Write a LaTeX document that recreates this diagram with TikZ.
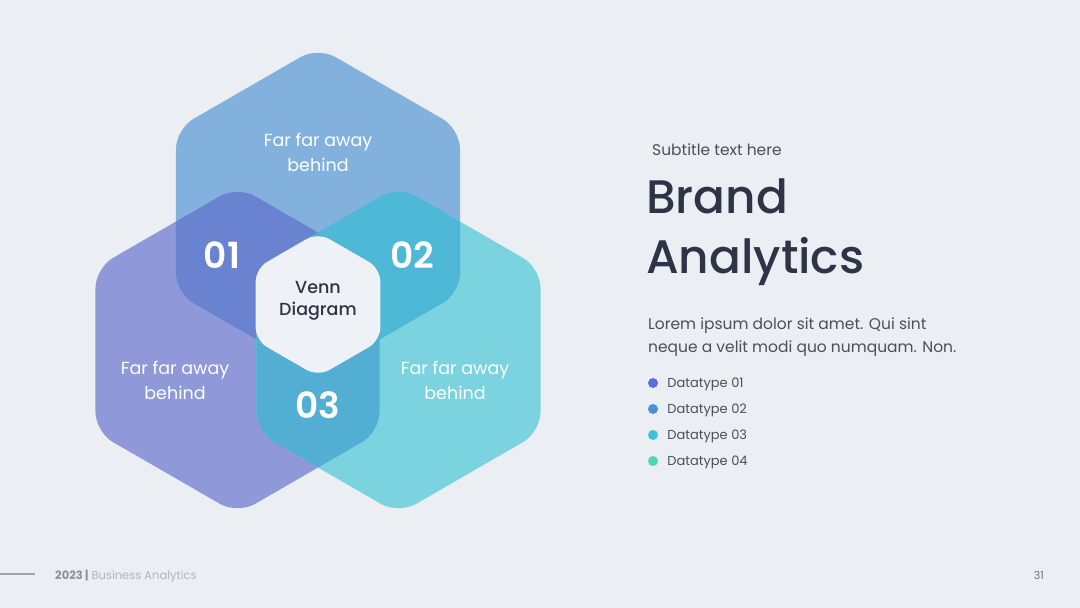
\documentclass[tikz,border=0pt]{standalone}
\usepackage{fontspec}
\setmainfont{Poppins}
\newfontfamily\popmed{Poppins Medium}
\newfontfamily\popsemi{Poppins SemiBold}
\usetikzlibrary{positioning}

\definecolor{bgcol}{HTML}{EBEEF2}
\definecolor{hextop}{HTML}{83B1DE}
\definecolor{hexleft}{HTML}{8F98D9}
\definecolor{hexright}{HTML}{7BD3DF}
\definecolor{lapone}{HTML}{6A83D1}
\definecolor{laptwo}{HTML}{4EB9D7}
\definecolor{lapthree}{HTML}{53AED3}
\definecolor{midcol}{HTML}{EEF1F5}
\definecolor{inkdark}{HTML}{2D3446}
\definecolor{inkbody}{HTML}{4A4F5C}
\definecolor{inkfoot}{HTML}{B0B5BF}
\definecolor{dotone}{HTML}{5B6FD8}
\definecolor{dottwo}{HTML}{4A90D9}
\definecolor{dotthree}{HTML}{3CC3DC}
\definecolor{dotfour}{HTML}{4FD6B8}

% hexagon path: #1 centre, #2 radius
\newcommand{\hexpath}[2]{([shift={(#1)}]30:#2) -- ([shift={(#1)}]90:#2) -- ([shift={(#1)}]150:#2)
  -- ([shift={(#1)}]210:#2) -- ([shift={(#1)}]270:#2) -- ([shift={(#1)}]330:#2) -- cycle}

\tikzset{
  hexlabel/.style={text=white, align=center, font=\fontsize{17.5}{25}\selectfont},
  numlabel/.style={text=white, font=\popsemi\fontsize{36}{40}\selectfont},
  legdot/.style={circle, inner sep=0pt, minimum size=10pt},
  legtext/.style={anchor=west, text=inkbody, font=\fontsize{13}{16}\selectfont, inner sep=0pt, yshift=-1pt},
}

\begin{document}
\begin{tikzpicture}[x=1pt,y=-1pt]
  \fill[bgcol] (0,0) rectangle (1080,608);
  \useasboundingbox (0,0) rectangle (1080,608);

  \coordinate (ctop) at (318,211);
  \coordinate (cleft) at (237.5,350);
  \coordinate (cright) at (398.5,350);
  \coordinate (cmid) at (318,304.5);

  % three hexagons
  \fill[hexleft, rounded corners=20pt] \hexpath{cleft}{164};
  \fill[hexright, rounded corners=20pt] \hexpath{cright}{164};
  \fill[hextop, rounded corners=20pt] \hexpath{ctop}{164};

  % overlaps
  \begin{scope}
    \clip[rounded corners=20pt] \hexpath{ctop}{164};
    \fill[lapone, rounded corners=20pt] \hexpath{cleft}{164};
  \end{scope}
  \begin{scope}
    \clip[rounded corners=20pt] \hexpath{ctop}{164};
    \fill[laptwo, rounded corners=20pt] \hexpath{cright}{164};
  \end{scope}
  \begin{scope}
    \clip[rounded corners=20pt] \hexpath{cleft}{164};
    \fill[lapthree, rounded corners=20pt] \hexpath{cright}{164};
  \end{scope}

  % centre
  \fill[midcol, rounded corners=13pt] \hexpath{cmid}{72};

  \node[hexlabel] (toptext) at (318,152) {Far far away\\behind};
  \node[hexlabel] (lefttext) at (175,380) {Far far away\\behind};
  \node[hexlabel] (righttext) at (455,380) {Far far away\\behind};
  \node[numlabel] (numone) at (222,255) {01};
  \node[numlabel] (numtwo) at (412,255) {02};
  \node[numlabel] (numthree) at (318,405) {03};
  \node[align=center, text=inkdark, font=\popmed\fontsize{17.5}{22}\selectfont] (venn) at (318,301) {Venn\\Diagram};

  % right column
  \node[anchor=base west, inner sep=0pt, text=inkbody, font=\fontsize{15.5}{18}\selectfont] (subtitle) at (652,155) {Subtitle text here};
  \node[anchor=base west, inner sep=0pt, text=inkdark, font=\popmed\fontsize{47}{60}\selectfont] (brand) at (646,213) {Brand};
  \node[anchor=base west, inner sep=0pt, text=inkdark, font=\popmed\fontsize{47}{60}\selectfont] (analytics) at (646,273) {Analytics};
  \node[anchor=base west, inner sep=0pt, text=inkbody, font=\fontsize{15.5}{23}\selectfont, align=left] (body) at (648,352)
    {Lorem ipsum dolor sit amet. Qui sint\\neque a velit modi quo numquam. Non.};

  \node[legdot, fill=dotone] (dot1) at (653,383) {};
  \node[legdot, fill=dottwo] (dot2) at (653,409) {};
  \node[legdot, fill=dotthree] (dot3) at (653,435) {};
  \node[legdot, fill=dotfour] (dot4) at (653,461) {};
  \node[legtext, right=9pt of dot1] (leg1) {Datatype 01};
  \node[legtext, right=9pt of dot2] (leg2) {Datatype 02};
  \node[legtext, right=9pt of dot3] (leg3) {Datatype 03};
  \node[legtext, right=9pt of dot4] (leg4) {Datatype 04};

  % footer
  \coordinate (ruleA) at (0,574);
  \coordinate (ruleB) at (35,574);
  \draw[inkfoot!90!black, line width=2pt] (ruleA) -- (ruleB);
  \node[anchor=base west, inner sep=0pt, font=\fontsize{11.5}{13}\selectfont] (footer) at (55,579)
    {\textcolor{inkfoot!80!black}{\textbf{2023 |}} \textcolor{inkfoot}{Business Analytics}};
  \node[anchor=base east, inner sep=0pt, text=inkbody!80, font=\fontsize{11}{13}\selectfont] (pagenum) at (1044,579) {31};
\end{tikzpicture}
\end{document}
